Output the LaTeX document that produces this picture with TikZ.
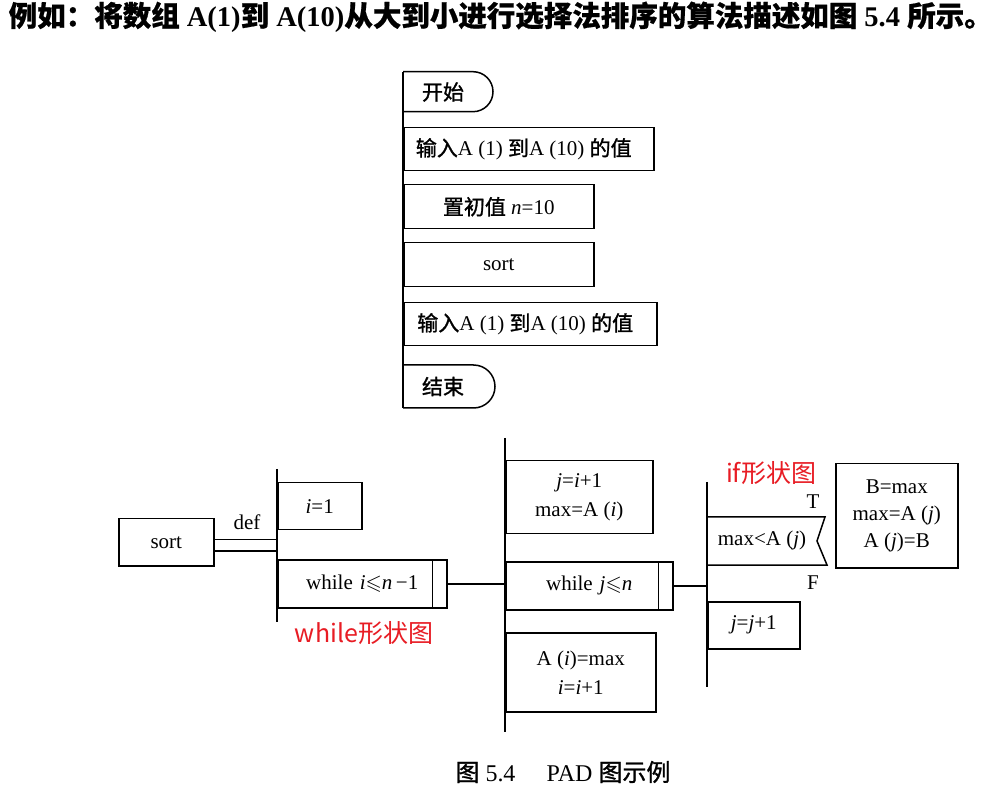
\documentclass[tikz,border=0pt]{standalone}
\usepackage{amssymb}
\usepackage{fontspec}
\usetikzlibrary{calc}
\setmainfont{Liberation Serif}
\newfontfamily\cjkb[FakeBold=1.2]{Noto Sans CJK SC}
\newfontfamily\cjkt[FakeBold=0.6]{Noto Sans CJK SC}
\newfontfamily\redfont{Noto Sans CJK SC}
\definecolor{notered}{RGB}{232,28,36}
\begin{document}
\begin{tikzpicture}[x=1pt,y=-1pt,line width=1.5pt,
  box/.style={draw,rectangle,anchor=north west,inner sep=0pt,align=center,font=\fontsize{21}{29}\selectfont},
  lbl/.style={inner sep=0pt,font=\fontsize{21}{22}\selectfont},
  note/.style={text=notered,inner sep=0pt,font=\redfont\fontsize{25}{28}\selectfont}]
\useasboundingbox[fill=white] (0,0) rectangle (994,791);

% title
\node[anchor=west,inner sep=0pt,font=\bfseries\fontsize{28.5}{30}\selectfont] (title) at (8,17)
 {{\cjkt 例如：将数组} A(1){\cjkt 到} A(10){\cjkt 从大到小进行选择法排序的算法描述如图} 5.4 {\cjkt 所示。}};

% top PAD
\coordinate (s0t) at (403,72);
\coordinate (s0b) at (403,408);
\draw (s0t) -- (s0b);
\draw (403,71.7) -- (473,71.7) arc[start angle=-90,end angle=90,radius=20] -- (403,111.7);
\node[lbl] (start) at (443,92) {\cjkb 开始};
\node[box,minimum width=250pt,minimum height=43pt] (in1) at (403,127) {{\cjkb 输入}A (1) {\cjkb 到}A (10) {\cjkb 的值}\hspace{10pt}};
\node[box,minimum width=190pt,minimum height=44pt] (init) at (403,184) {{\cjkb 置初值} \textit{n}=10};
\node[box,minimum width=190pt,minimum height=44pt] (sortcall) at (403,242) {sort};
\node[box,minimum width=253pt,minimum height=43pt] (out1) at (403,302) {{\cjkb 输入}A (1) {\cjkb 到}A (10) {\cjkb 的值}\hspace{10pt}};
\draw (403,365) -- (473.5,365) arc[start angle=-90,end angle=90,radius=21.5] -- (403,408);
\node[lbl] (stop) at (443,386.5) {\cjkb 结束};

% bottom PAD
\node[box,minimum width=95pt,minimum height=47pt] (sort) at (118,518) {sort};
\coordinate (s1t) at (277,469);
\coordinate (s1b) at (277,622);
\draw (s1t) -- (s1b);
\coordinate (d1a) at ($(sort.east)+(0,-2.5)$);
\coordinate (d1b) at ($(sort.east)+(0,8.5)$);
\draw (d1a) -- (d1a -| s1t);
\draw (d1b) -- (d1b -| s1t);
\node[lbl] (def) at (247,522) {def};
\node[box,minimum width=84pt,minimum height=47pt] (i1) at (277,482) {\textit{i}=1};
\node[box,minimum width=169pt,minimum height=48pt,text width=154pt] (wi) at (277,559) {while \textit{i}$\leqslant$\textit{n}\,−1};
\draw ($(wi.north east)+(-15,0)$) -- ($(wi.south east)+(-15,0)$);

\coordinate (s2t) at (505,438);
\coordinate (s2b) at (505,732);
\draw (s2t) -- (s2b);
\draw (wi.east) -- (wi.east -| s2t);
\node[box,minimum width=147pt,minimum height=73pt] (b1) at (505,460) {\textit{j}=\textit{i}+1\\max=A (\textit{i})};
\node[box,minimum width=167pt,minimum height=48pt,text width=152pt] (wj) at (505,561) {while \textit{j}$\leqslant$\textit{n}};
\draw ($(wj.north east)+(-15,0)$) -- ($(wj.south east)+(-15,0)$);
\node[box,minimum width=150pt,minimum height=79pt] (b2) at (505,632) {A (\textit{i})=max\\\textit{i}=\textit{i}+1};

\coordinate (s3t) at (707,482);
\coordinate (s3b) at (707,687);
\draw (s3t) -- (s3b);
\draw (wj.east) -- (wj.east -| s3t);
\draw (707,517) -- (825,517) -- (817,541) -- (827,565) -- (707,565);
\node[lbl] (ifn) at (762,540) {max<A (\textit{j})};
\node[lbl] (T) at (813,502) {T};
\node[lbl] (F) at (813,583) {F};
\node[box,minimum width=92pt,minimum height=47pt] (jj) at (707,601) {\textit{j}=\textit{j}+1};
\node[box,minimum width=122pt,minimum height=104pt,font=\fontsize{21}{27}\selectfont] (bb) at (835,463) {B=max\\max=A (\textit{j})\\A (\textit{j})=B};

% red notes
\node[note] (wnote) at (364,633) {while形状图};
\node[note] (inote) at (771,473) {if形状图};

% caption
\node[inner sep=0pt,font=\fontsize{24}{26}\selectfont] (cap) at (563,772) {{\cjkb 图} 5.4\hspace{1.3em}PAD {\cjkb 图示例}};
\end{tikzpicture}
\end{document}
